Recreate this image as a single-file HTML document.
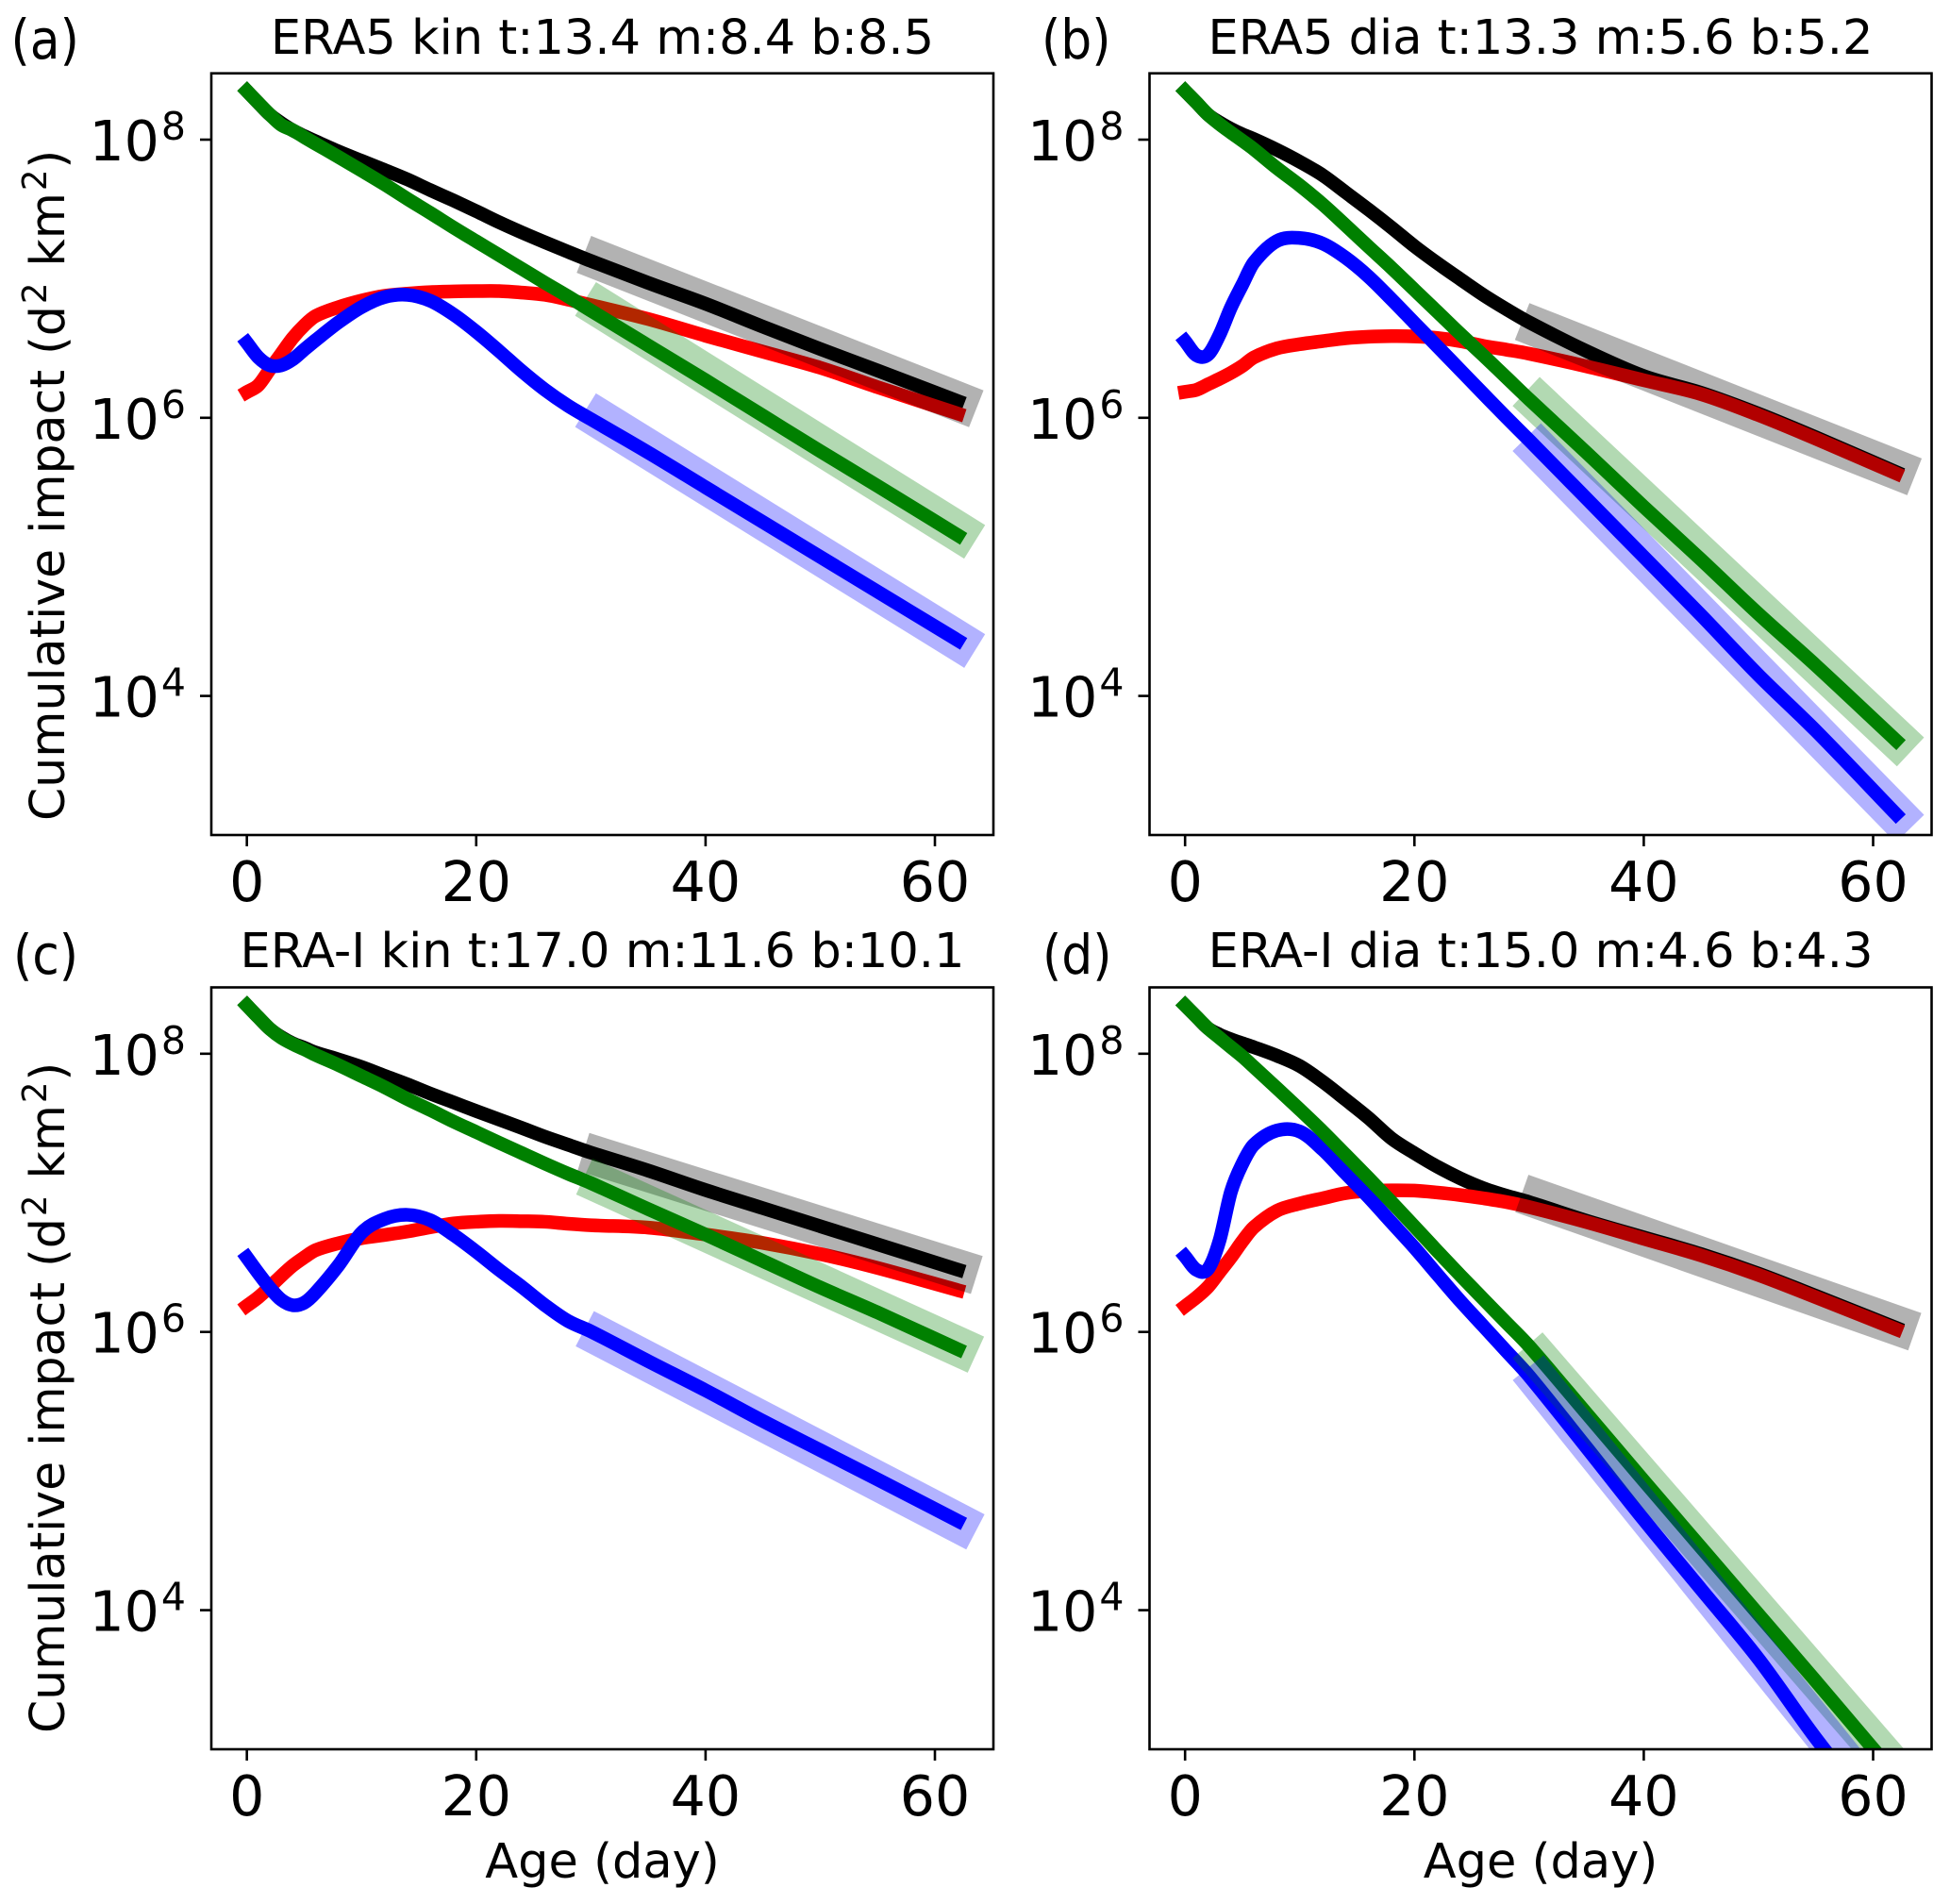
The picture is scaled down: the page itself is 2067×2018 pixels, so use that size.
<!DOCTYPE html>
<html lang="en">
<head>
<meta charset="utf-8">
<title>Cumulative impact versus age</title>
<style>
  html, body { margin: 0; padding: 0; background: #fff; }
  svg { display: block; font-family: "DejaVu Sans", "Liberation Sans", sans-serif; fill: #000; }
  .t { font-size: 51px; }
  .p { font-size: 57.7px; }
</style>
</head>
<body>
<svg id="figure" xmlns="http://www.w3.org/2000/svg" width="2067" height="2018" viewBox="0 0 2067 2018">
  <rect x="0" y="0" width="2067" height="2018" fill="#fff"/>

  <text class="p" transform="translate(11.5 62) scale(0.9 1)">(a)</text>
  <text class="p" transform="translate(1104 62) scale(0.9 1)">(b)</text>
  <text class="p" transform="translate(14 1032) scale(0.9 1)">(c)</text>
  <text class="p" transform="translate(1105 1032) scale(0.9 1)">(d)</text>

  <text class="t" x="638.5" y="57" text-anchor="middle">ERA5 kin t:13.4 m:8.4 b:8.5</text>
  <text class="t" x="1633" y="57" text-anchor="middle">ERA5 dia t:13.3 m:5.6 b:5.2</text>
  <text class="t" x="638.5" y="1025" text-anchor="middle">ERA-I kin t:17.0 m:11.6 b:10.1</text>
  <text class="t" x="1633" y="1025" text-anchor="middle">ERA-I dia t:15.0 m:4.6 b:4.3</text>

  <text class="t" font-size="50.5" style="font-size:50.5px" transform="translate(68 870) rotate(-90)">Cumulative impact (d<tspan font-size="35.4" style="font-size:35.4px" dx="2" dy="-19">2</tspan><tspan dx="1" dy="19"> km</tspan><tspan font-size="35.4" style="font-size:35.4px" dx="2" dy="-19">2</tspan><tspan dx="1" dy="19">)</tspan></text>
  <text class="t" font-size="50.5" style="font-size:50.5px" transform="translate(68 1837) rotate(-90)">Cumulative impact (d<tspan font-size="35.4" style="font-size:35.4px" dx="2" dy="-19">2</tspan><tspan dx="1" dy="19"> km</tspan><tspan font-size="35.4" style="font-size:35.4px" dx="2" dy="-19">2</tspan><tspan dx="1" dy="19">)</tspan></text>

  <text class="t" x="638.5" y="1990" text-anchor="middle">Age (day)</text>
  <text class="t" x="1633" y="1990" text-anchor="middle">Age (day)</text>
</svg>

<script>
// Shared sampling of age (day) for every curve
const days = [0,1,2,3,4,5,6,8,10,12,14,16,18,20,22,24,26,28,30,35,40,45,50,55,62];
// Fit lines run between these two ages
const fitDays = [31,62];

// Axis ticks
const xTickValues = [0,20,40,60];
const xTickLabels = ["0","20","40","60"];
const yTickExponents = [4,6,8];
const yTickBase = "10";
const yLogMin = 3;
const yLogMax = 8.477;
const xMin = -3.1;
const xMax = 65.1;

// Panel (a): log10 of cumulative impact
const aBlack = [8.35,8.264,8.18,8.119,8.067,8.026,7.988,7.915,7.848,7.782,7.714,7.637,7.563,7.486,7.406,7.332,7.262,7.194,7.128,6.97,6.82,6.655,6.495,6.34,6.12];
const aRed = [6.185,6.234,6.348,6.461,6.574,6.664,6.732,6.796,6.843,6.877,6.893,6.904,6.909,6.911,6.911,6.9,6.884,6.85,6.811,6.71,6.59,6.475,6.36,6.22,6.03];
const aBlue = [6.54,6.434,6.377,6.377,6.42,6.49,6.558,6.687,6.796,6.868,6.884,6.841,6.744,6.619,6.479,6.334,6.201,6.087,5.99,5.75,5.5,5.25,5.0,4.75,4.4];
const aGreen = [8.35,8.264,8.181,8.106,8.068,8.018,7.97,7.875,7.778,7.679,7.574,7.473,7.369,7.269,7.17,7.07,6.97,6.873,6.771,6.52,6.27,6.015,5.76,5.51,5.155];
const aFitBlack = [7.123,6.117];
const aFitGreen = [6.779,5.183];
const aFitBlue = [5.98,4.398];

// Panel (b)
const bBlack = [8.35,8.266,8.18,8.124,8.078,8.038,8.004,7.927,7.841,7.744,7.621,7.497,7.368,7.234,7.112,6.997,6.884,6.782,6.687,6.48,6.30,6.18,6.03,5.86,5.61];
const bRed = [6.187,6.201,6.241,6.28,6.323,6.373,6.434,6.499,6.529,6.551,6.572,6.583,6.587,6.585,6.574,6.551,6.517,6.49,6.461,6.37,6.27,6.17,6.02,5.85,5.60];
const bBlue = [6.551,6.449,6.454,6.596,6.793,6.958,7.117,7.271,7.293,7.253,7.151,7.015,6.852,6.682,6.513,6.343,6.173,6.004,5.839,5.42,5.0,4.58,4.15,3.75,3.15];
const bGreen = [8.35,8.266,8.18,8.112,8.051,7.992,7.931,7.796,7.671,7.535,7.384,7.23,7.078,6.92,6.762,6.603,6.449,6.291,6.133,5.75,5.36,4.98,4.59,4.22,3.68];
const bFitBlack = [6.64,5.628];
const bFitGreen = [6.092,3.695];
const bFitBlue = [5.759,3.147];

// Panel (c)
const cBlack = [8.348,8.262,8.179,8.12,8.075,8.043,8.009,7.959,7.905,7.842,7.78,7.713,7.651,7.588,7.527,7.466,7.403,7.346,7.289,7.16,7.02,6.89,6.76,6.63,6.448];
const cRed = [6.188,6.249,6.324,6.403,6.477,6.536,6.588,6.638,6.674,6.697,6.722,6.753,6.78,6.792,6.798,6.796,6.792,6.778,6.767,6.75,6.70,6.64,6.56,6.46,6.30];
const cBlue = [6.536,6.423,6.317,6.231,6.192,6.21,6.283,6.48,6.713,6.812,6.842,6.803,6.699,6.577,6.446,6.323,6.192,6.079,6.004,5.79,5.58,5.36,5.15,4.94,4.642];
const cGreen = [8.348,8.262,8.179,8.115,8.07,8.032,7.991,7.918,7.839,7.76,7.674,7.595,7.513,7.437,7.36,7.285,7.21,7.138,7.07,6.883,6.70,6.51,6.32,6.14,5.876];
const cFitBlack = [7.252,6.452];
const cFitGreen = [7.059,5.896];
const cFitBlue = [5.958,4.628];

// Panel (d)
const dBlack = [8.348,8.265,8.183,8.138,8.104,8.075,8.047,7.986,7.912,7.799,7.67,7.538,7.391,7.285,7.188,7.104,7.034,6.98,6.934,6.80,6.68,6.56,6.42,6.26,6.03];
const dRed = [6.185,6.249,6.324,6.43,6.536,6.652,6.753,6.871,6.923,6.961,6.998,7.014,7.018,7.016,7.002,6.984,6.961,6.934,6.898,6.79,6.67,6.55,6.41,6.25,6.02];
const dBlue = [6.543,6.446,6.452,6.656,7.007,7.21,7.346,7.448,7.441,7.311,7.14,6.969,6.787,6.606,6.413,6.222,6.043,5.863,5.683,5.17,4.65,4.15,3.65,3.08,2.35];
const dGreen = [8.348,8.265,8.183,8.115,8.047,7.98,7.905,7.753,7.599,7.441,7.274,7.106,6.934,6.758,6.581,6.407,6.237,6.068,5.898,5.415,4.93,4.45,3.97,3.49,2.81];
const dFitBlack = [6.948,6.049];
const dFitGreen = [5.796,2.851];
const dFitBlue = [5.632,2.457];

const NS = 'http://www.w3.org/2000/svg';
const figure = document.getElementById('figure');

function make(tag, parent) {
  const el = document.createElementNS(NS, tag);
  parent.appendChild(el);
  return el;
}

// Smooth path through the samples (cubic Hermite with finite-difference tangents)
function smoothPath(xs, ys, xScale, yScale) {
  const px = xs.map(xScale);
  const py = ys.map(yScale);
  const n = px.length;
  const m = [];
  for (let i = 0; i < n; i++) {
    if (i === 0) {
      m.push((py[1] - py[0]) / (px[1] - px[0]));
    } else if (i === n - 1) {
      m.push((py[n - 1] - py[n - 2]) / (px[n - 1] - px[n - 2]));
    } else {
      m.push((py[i + 1] - py[i - 1]) / (px[i + 1] - px[i - 1]));
    }
  }
  let d = 'M' + px[0].toFixed(2) + ' ' + py[0].toFixed(2);
  for (let i = 0; i < n - 1; i++) {
    const h = (px[i + 1] - px[i]) / 3;
    d += ' C' + (px[i] + h).toFixed(2) + ' ' + (py[i] + m[i] * h).toFixed(2) +
         ' ' + (px[i + 1] - h).toFixed(2) + ' ' + (py[i + 1] - m[i + 1] * h).toFixed(2) +
         ' ' + px[i + 1].toFixed(2) + ' ' + py[i + 1].toFixed(2);
  }
  return d;
}

function drawPanel(id, left, right, top, bottom, curves, fits) {
  const xScale = function (d) { return left + (d - xMin) / (xMax - xMin) * (right - left); };
  const yScale = function (v) { return bottom - (v - yLogMin) / (yLogMax - yLogMin) * (bottom - top); };

  const group = make('g', figure);
  
  

  const clip = make('clipPath', group);
  clip.setAttribute('id', 'clip-' + id);
  const clipRect = make('rect', clip);
  clipRect.setAttribute('x', left);
  clipRect.setAttribute('y', top);
  clipRect.setAttribute('width', right - left);
  clipRect.setAttribute('height', bottom - top);

  const plot = make('g', group);
  plot.setAttribute('clip-path', 'url(#clip-' + id + ')');
  
  

  curves.forEach(function (c) {
    const line = make('path', plot);
    
    
    line.setAttribute('d', smoothPath(days, c.values, xScale, yScale));
    line.setAttribute('fill', 'none');
    line.setAttribute('stroke', c.color);
    line.setAttribute('stroke-width', '14.5');
    line.setAttribute('stroke-linecap', 'square');
    line.setAttribute('stroke-linejoin', 'round');
  });

  fits.forEach(function (f) {
    const band = make('line', plot);
    
    
    band.setAttribute('x1', xScale(fitDays[0]));
    band.setAttribute('y1', yScale(f.values[0]));
    band.setAttribute('x2', xScale(fitDays[1]));
    band.setAttribute('y2', yScale(f.values[1]));
    band.setAttribute('stroke', f.color);
    band.setAttribute('stroke-opacity', '0.3');
    band.setAttribute('stroke-width', '42');
    band.setAttribute('stroke-linecap', 'square');
  });

  xTickValues.forEach(function (d, i) {
    const tick = make('line', group);
    
    
    tick.setAttribute('x1', xScale(d));
    tick.setAttribute('x2', xScale(d));
    tick.setAttribute('y1', bottom);
    tick.setAttribute('y2', bottom + 12);
    tick.setAttribute('stroke', '#000');
    tick.setAttribute('stroke-width', '2.6');

    const label = make('text', group);
    
    
    label.setAttribute('x', xScale(d));
    label.setAttribute('y', bottom + 70);
    label.setAttribute('text-anchor', 'middle');
    label.setAttribute('font-size', '58.5');
    label.textContent = xTickLabels[i];
  });

  yTickExponents.forEach(function (e) {
    const tick = make('line', group);
    
    
    tick.setAttribute('x1', left - 12);
    tick.setAttribute('x2', left);
    tick.setAttribute('y1', yScale(e));
    tick.setAttribute('y2', yScale(e));
    tick.setAttribute('stroke', '#000');
    tick.setAttribute('stroke-width', '2.6');

    const label = make('text', group);
    
    
    label.setAttribute('x', left - 27);
    label.setAttribute('y', yScale(e) + 22);
    label.setAttribute('text-anchor', 'end');
    label.setAttribute('font-size', '58.5');
    const base = make('tspan', label);
    base.textContent = yTickBase;
    const exp = make('tspan', label);
    exp.setAttribute('font-size', '41');
    exp.setAttribute('dy', '-22');
    exp.setAttribute('dx', '2');
    exp.textContent = String(e);
  });

  const frame = make('rect', group);
  
  
  frame.setAttribute('x', left);
  frame.setAttribute('y', top);
  frame.setAttribute('width', right - left);
  frame.setAttribute('height', bottom - top);
  frame.setAttribute('fill', 'none');
  frame.setAttribute('stroke', '#000');
  frame.setAttribute('stroke-width', '2.6');
}

function curveSet(black, red, blue, green) {
  return [
    { name: 'black', color: '#000000', values: black },
    { name: 'red', color: '#ff0000', values: red },
    { name: 'blue', color: '#0000ff', values: blue },
    { name: 'green', color: '#008000', values: green }
  ];
}

function fitSet(black, green, blue) {
  return [
    { name: 'black', color: '#000000', values: black },
    { name: 'green', color: '#008000', values: green },
    { name: 'blue', color: '#0000ff', values: blue }
  ];
}

drawPanel('a', 224, 1053, 77.7, 885, curveSet(aBlack, aRed, aBlue, aGreen), fitSet(aFitBlack, aFitGreen, aFitBlue));
drawPanel('b', 1218.5, 2047.5, 77.7, 885, curveSet(bBlack, bRed, bBlue, bGreen), fitSet(bFitBlack, bFitGreen, bFitBlue));
drawPanel('c', 224, 1053, 1046.5, 1854, curveSet(cBlack, cRed, cBlue, cGreen), fitSet(cFitBlack, cFitGreen, cFitBlue));
drawPanel('d', 1218.5, 2047.5, 1046.5, 1854, curveSet(dBlack, dRed, dBlue, dGreen), fitSet(dFitBlack, dFitGreen, dFitBlue));
</script>
</body>
</html>
